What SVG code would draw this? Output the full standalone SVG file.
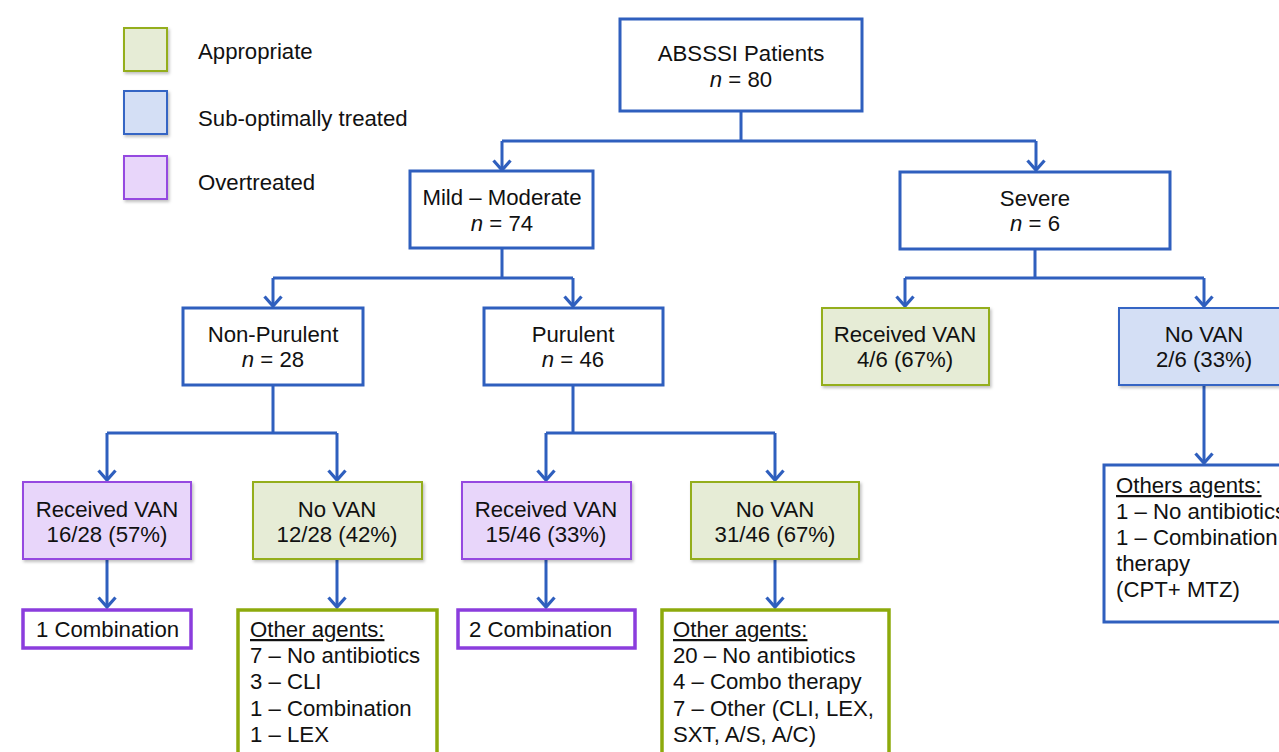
<svg xmlns="http://www.w3.org/2000/svg" width="1279" height="752" viewBox="0 0 1279 752">
<defs>
<style>
text{font-family:"Liberation Sans",Arial,sans-serif;font-size:22.2px;fill:#111}
.c{text-anchor:middle}
.bb{fill:#fff;stroke:#2F5FBE;stroke-width:3}
.gr{fill:#E6ECD6;stroke:#94AE1C;stroke-width:2;filter:url(#sh)}
.pu{fill:#E8D6FA;stroke:#9549E0;stroke-width:2;filter:url(#sh)}
.bl{fill:#D4DFF5;stroke:#3565C4;stroke-width:2;filter:url(#sh)}
.pt{fill:#fff;stroke:#8B3DDD;stroke-width:3.5}
.gt{fill:#fff;stroke:#8DAA0C;stroke-width:3.5}
.ln{fill:none;stroke:#2F5FBE;stroke-width:3}
.ar{fill:none;stroke:#2F5FBE;stroke-width:3;marker-end:url(#arr)}
.u{text-decoration:underline}
</style>
<filter id="sh" x="-10%" y="-10%" width="130%" height="130%">
<feDropShadow dx="1.5" dy="2" stdDeviation="1.5" flood-color="#000" flood-opacity="0.25"/>
</filter>
<marker id="arr" markerUnits="userSpaceOnUse" markerWidth="22" markerHeight="22" refX="11" refY="11" orient="auto" viewBox="0 0 22 22">
<path d="M1.5,2.5 L11,11 L1.5,19.5" fill="none" stroke="#2F5FBE" stroke-width="3.2"/>
</marker>
</defs>

<g id="legend">
<rect x="124" y="28" width="43" height="43" class="gr"/>
<text x="198" y="59">Appropriate</text>
<rect x="124" y="91" width="43" height="43" class="bl"/>
<text x="198" y="126">Sub-optimally treated</text>
<rect x="124" y="156" width="43" height="43" class="pu"/>
<text x="198" y="190">Overtreated</text>
</g>

<g id="connectors">
<path class="ln" d="M741,111 V141 M502,141 H1036"/>
<path class="ar" d="M502,141 V170"/>
<path class="ar" d="M1036,141 V170"/>
<path class="ln" d="M502,248 V278 M273,278 H573"/>
<path class="ar" d="M273,278 V306"/>
<path class="ar" d="M573,278 V306"/>
<path class="ln" d="M1035,249 V278 M905,278 H1204"/>
<path class="ar" d="M905,278 V306"/>
<path class="ar" d="M1204,278 V306"/>
<path class="ln" d="M273,385 V433 M107,433 H337"/>
<path class="ar" d="M107,433 V480"/>
<path class="ar" d="M337,433 V480"/>
<path class="ln" d="M573,385 V433 M546,433 H775"/>
<path class="ar" d="M546,433 V480"/>
<path class="ar" d="M775,433 V480"/>
<path class="ar" d="M107,559 V607"/>
<path class="ar" d="M337,559 V607"/>
<path class="ar" d="M546,559 V607"/>
<path class="ar" d="M775,559 V607"/>
<path class="ar" d="M1204,385 V463"/>
</g>

<g id="root">
<rect x="620" y="19" width="242" height="92" class="bb"/>
<text x="741" y="61" class="c">ABSSSI Patients</text>
<text x="741" y="87" class="c"><tspan font-style="italic">n</tspan> = 80</text>
</g>

<g id="mild">
<rect x="410" y="171" width="183" height="77" class="bb"/>
<text x="502" y="205" class="c">Mild – Moderate</text>
<text x="502" y="231" class="c"><tspan font-style="italic">n</tspan> = 74</text>
</g>

<g id="severe">
<rect x="900" y="172" width="270" height="77" class="bb"/>
<text x="1035" y="206" class="c">Severe</text>
<text x="1035" y="231" class="c"><tspan font-style="italic">n</tspan> = 6</text>
</g>

<g id="nonpurulent">
<rect x="183" y="308" width="180" height="77" class="bb"/>
<text x="273" y="342" class="c">Non-Purulent</text>
<text x="273" y="367" class="c"><tspan font-style="italic">n</tspan> = 28</text>
</g>

<g id="purulent">
<rect x="484" y="308" width="179" height="77" class="bb"/>
<text x="573" y="342" class="c">Purulent</text>
<text x="573" y="367" class="c"><tspan font-style="italic">n</tspan> = 46</text>
</g>

<g id="sev-van">
<rect x="822" y="308" width="167" height="77" class="gr"/>
<text x="905" y="342" class="c">Received VAN</text>
<text x="905" y="367" class="c">4/6 (67%)</text>
</g>

<g id="sev-novan">
<rect x="1119" y="308" width="170" height="77" class="bl"/>
<text x="1204" y="342" class="c">No VAN</text>
<text x="1204" y="367" class="c">2/6 (33%)</text>
</g>

<g id="sev-others">
<rect x="1104" y="465" width="190" height="157" class="bb"/>
<text x="1116" y="493" class="u">Others agents:</text>
<text x="1116" y="519">1 – No antibiotics</text>
<text x="1116" y="545">1 – Combination</text>
<text x="1116" y="571">therapy</text>
<text x="1116" y="597">(CPT+ MTZ)</text>
</g>

<g id="np-van">
<rect x="23" y="482" width="168" height="77" class="pu"/>
<text x="107" y="517" class="c">Received VAN</text>
<text x="107" y="542" class="c">16/28 (57%)</text>
</g>

<g id="np-novan">
<rect x="253" y="482" width="169" height="77" class="gr"/>
<text x="337" y="517" class="c">No VAN</text>
<text x="337" y="542" class="c">12/28 (42%)</text>
</g>

<g id="p-van">
<rect x="462" y="482" width="169" height="77" class="pu"/>
<text x="546" y="517" class="c">Received VAN</text>
<text x="546" y="542" class="c">15/46 (33%)</text>
</g>

<g id="p-novan">
<rect x="691" y="482" width="168" height="77" class="gr"/>
<text x="775" y="517" class="c">No VAN</text>
<text x="775" y="542" class="c">31/46 (67%)</text>
</g>

<g id="np-comb">
<rect x="23" y="610" width="168" height="38" class="pt"/>
<text x="36" y="637">1 Combination</text>
</g>

<g id="np-other">
<rect x="238" y="610" width="199" height="160" class="gt"/>
<text x="250" y="637" class="u">Other agents:</text>
<text x="250" y="663">7 – No antibiotics</text>
<text x="250" y="689">3 – CLI</text>
<text x="250" y="716">1 – Combination</text>
<text x="250" y="742">1 – LEX</text>
</g>

<g id="p-comb">
<rect x="458" y="610" width="177" height="38" class="pt"/>
<text x="469" y="637">2 Combination</text>
</g>

<g id="p-other">
<rect x="662" y="610" width="227" height="160" class="gt"/>
<text x="673" y="637" class="u">Other agents:</text>
<text x="673" y="663">20 – No antibiotics</text>
<text x="673" y="689">4 – Combo therapy</text>
<text x="673" y="716">7 – Other (CLI, LEX,</text>
<text x="673" y="742">SXT, A/S, A/C)</text>
</g>
</svg>
